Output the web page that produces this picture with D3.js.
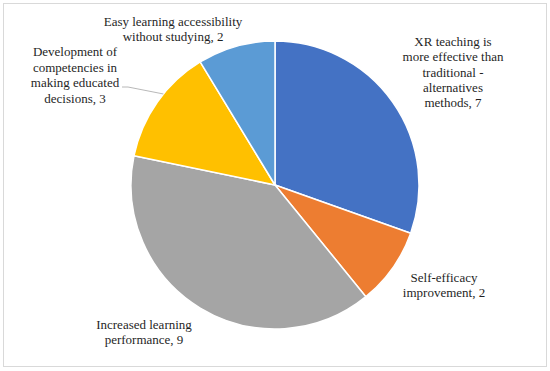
<!DOCTYPE html>
<meta charset="utf-8">
<style>
body { margin: 0; background: #fff; }
</style>
<body>
<script src="https://d3js.org/d3.v7.min.js"></script>
<script>
// chart values
var categories = [
  "XR teaching is more effective than traditional - alternatives methods",
  "Self-efficacy improvement",
  "Increased learning performance",
  "Development of competencies in making educated decisions",
  "Easy learning accessibility without studying"
];
var values = [7, 2, 9, 3, 2];
var labelLines = [
  ["XR teaching is", "more effective than", "traditional -", "alternatives", "methods, 7"],
  ["Self-efficacy", "improvement, 2"],
  ["Increased learning", "performance, 9"],
  ["Development of", "competencies in", "making educated", "decisions, 3"],
  ["Easy learning accessibility", "without studying, 2"]
];
var colors = ["#4472C4", "#ED7D31", "#A5A5A5", "#FFC000", "#5B9BD5"];

// label placement (centre of each text block, relative to pie centre)
var labelPos = [[178, -113], [169, 100], [-131, 147], [-200, -110], [-102, -156]];

var width = 550, height = 371,
    cx = 275, cy = 185, radius = 144, lineH = 15.4;

var svg = d3.select("body").append("svg")
  .attr("width", width)
  .attr("height", height);

svg.append("rect")
  .attr("x", 3.5).attr("y", 3.5)
  .attr("width", 543).attr("height", 363)
  .attr("fill", "#fff")
  .attr("stroke", "#d9d9d9");

var g = svg.append("g").attr("transform", "translate(" + cx + "," + cy + ")");

var pie = d3.pie().sort(null).value(function(d) { return d; });
var arcs = pie(values);
var arc = d3.arc().innerRadius(0).outerRadius(radius);

g.selectAll("path")
  .data(arcs)
  .enter().append("path")
    .attr("d", arc)
    .attr("fill", function(d, i) { return colors[i]; })
    .attr("stroke", "#fff")
    .attr("stroke-width", 1.5)
    .attr("stroke-linejoin", "round");

// leader line for the "Development" label
var a = arcs[3], ang = a.startAngle + (a.endAngle - a.startAngle) * 0.585;
var edge = [Math.sin(ang) * radius, -Math.cos(ang) * radius];
var lp = labelPos[3];
g.append("polyline")
  .attr("points", [[lp[0] + 47, lp[1] + 12], [lp[0] + 53, lp[1] + 12], edge].join(" "))
  .attr("fill", "none")
  .attr("stroke", "#a6a6a6")
  .attr("stroke-width", 0.8);

var labels = g.selectAll("text.lbl")
  .data(arcs)
  .enter().append("text")
    .attr("class", "lbl")
    .attr("text-anchor", "middle")
    .style("font-family", "'Liberation Serif'")
    .style("font-size", "13px")
    .attr("fill", "#1f1f1f");

labels.each(function(d, i) {
  var t = d3.select(this), lines = labelLines[i];
  var y0 = labelPos[i][1] - (lines.length - 1) * lineH / 2 + 4.5;
  lines.forEach(function(s, k) {
    t.append("tspan")
      .attr("x", labelPos[i][0])
      .attr("y", y0 + k * lineH)
      .style("font-family", "'Liberation Serif'")
      .text(s);
  });
});
</script>
